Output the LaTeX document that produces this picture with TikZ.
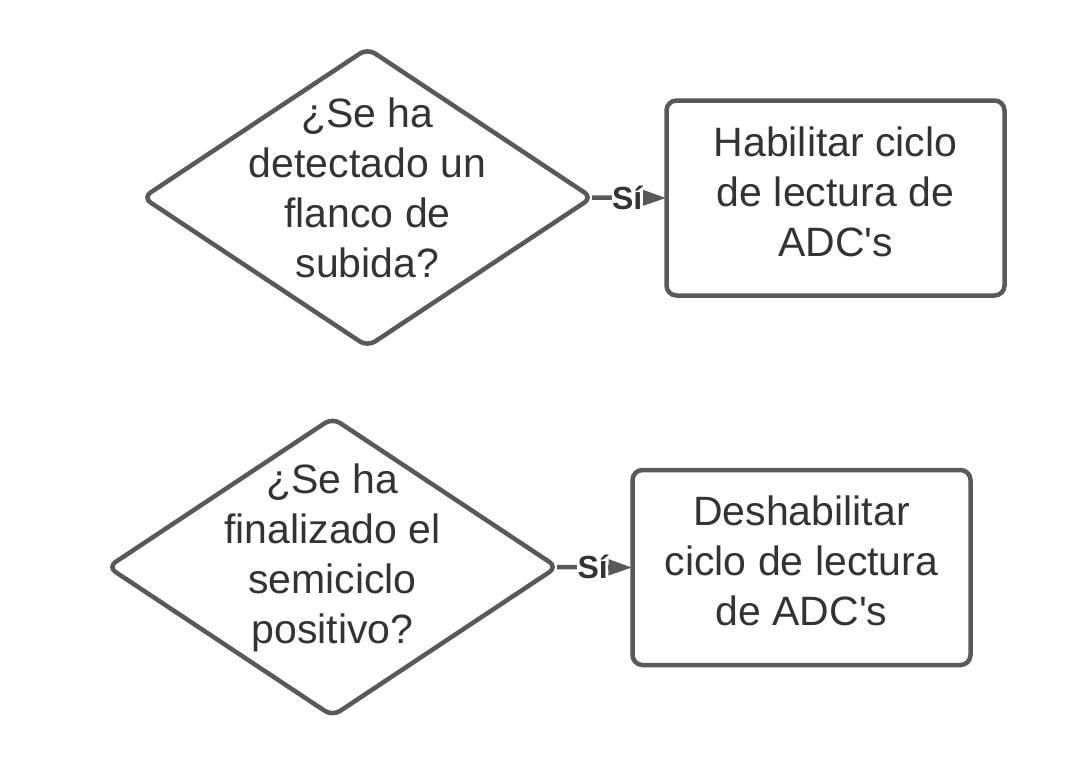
\documentclass[tikz,border=0pt]{standalone}
\usepackage{fontspec}
\setmainfont{Liberation Sans}
\usetikzlibrary{shapes.geometric,arrows.meta}
\definecolor{linegray}{HTML}{595959}
\definecolor{textgray}{HTML}{333333}
\begin{document}
\begin{tikzpicture}[x=1pt,y=-1pt,
  decision/.style={draw=linegray, line width=4.5pt, diamond, rounded corners=9pt, inner sep=0pt, outer sep=0pt, minimum width=449pt, minimum height=298pt},
  procbox/.style={draw=linegray, line width=4.5pt, rectangle, rounded corners=10pt, inner sep=0pt, outer sep=0pt, minimum width=338pt, minimum height=195pt},
  lbl/.style={text=textgray, align=center, font=\fontsize{41}{50}\selectfont},
  yes/.style={fill=white, text=textgray, inner sep=0.5pt, font=\fontsize{32}{38}\selectfont\bfseries},
  conn/.style={draw=linegray, line width=4.5pt, -{Triangle[length=24pt,width=15pt]}}]
\useasboundingbox (0,0) rectangle (1088,771);
\node[decision] (d1) at (367.5,197.5) {};
\node[lbl] (t1) at (367.5,188) {¿Se ha\\detectado un\\flanco de\\subida?};
\node[procbox] (b1) at (835.5,198) {};
\node[lbl] (u1) at (835.5,192) {Habilitar ciclo\\de lectura de\\ADC\textquotesingle s};
\node[decision] (d2) at (332.5,567) {};
\node[lbl] (t2) at (332.5,558) {¿Se ha\\finalizado el\\semiciclo\\positivo?};
\node[procbox] (b2) at (801.5,567.5) {};
\node[lbl] (u2) at (801.5,561) {Deshabilitar\\ciclo de lectura\\de ADC\textquotesingle s};
\draw[conn] (d1.east) -- node[yes, xshift=-2pt] {Sí} (b1.west);
\draw[conn] (d2.east) -- node[yes, xshift=-2pt] {Sí} (b2.west);
\end{tikzpicture}
\end{document}
